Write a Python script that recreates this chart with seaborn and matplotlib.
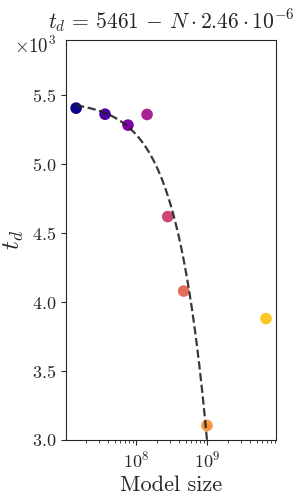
import numpy as np
import pandas as pd
import seaborn as sns
import matplotlib
matplotlib.use("Agg")
import matplotlib.pyplot as plt

# model sizes (parameters) and measured t_d
model_sizes = [1.43e7, 3.66e7, 7.7e7, 1.43e8, 2.8e8, 4.7e8, 1.0e9, 6.8e9]
t_d = [5406, 5362, 5283, 5360, 4620, 4080, 3105, 3880]

# linear fit: t_d = 5461 - N * 2.46e-6
fit_intercept = 5461
fit_slope = 2.46e-6
fit_max_size = 1.0e9

sns.set_style("ticks")
plt.rcParams["font.family"] = "serif"
plt.rcParams["font.serif"] = ["cmr10"]
plt.rcParams["mathtext.fontset"] = "cm"
plt.rcParams["axes.formatter.use_mathtext"] = True
plt.rcParams["axes.unicode_minus"] = False
plt.rcParams["axes.titley"] = 1.0  # keep the title from jumping over the offset text

df = pd.DataFrame({"size": model_sizes, "t_d": t_d, "idx": range(len(model_sizes))})
colors = [plt.cm.plasma(i / len(model_sizes)) for i in range(len(model_sizes))]

fit_x = np.logspace(np.log10(min(model_sizes)), np.log10(fit_max_size), 200)
fit_y = fit_intercept - fit_x * fit_slope

fig, ax = plt.subplots(figsize=(3, 5), dpi=100)
sns.scatterplot(data=df, x="size", y="t_d", hue="idx", palette=colors,
                s=70, linewidth=0, legend=False, ax=ax, zorder=2)
ax.plot(fit_x, fit_y, "--", color="#222222", alpha=0.9, lw=1.6, zorder=3)

ax.set_xscale("log")
ax.set_xlim(1.03e7, 9.4e9)
ax.set_ylim(3000, 5900)
ax.set_yticks([3000, 3500, 4000, 4500, 5000, 5500])
ax.ticklabel_format(axis="y", style="sci", scilimits=(3, 3))
offset = ax.yaxis.get_offset_text()
offset.set_fontsize(13.5)
offset.set_x(-0.045)
offset.set_horizontalalignment("right")
offset.set_verticalalignment("top")
ax.tick_params(labelsize=13)

ax.set_xlabel("Model size", fontsize=16)
ax.set_ylabel("$t_d$", fontsize=18)
ax.set_title(r"$t_d\,=\,5461\,-\,N \cdot 2.46 \cdot 10^{-6}$", fontsize=15.5, pad=8)

fig.subplots_adjust(left=0.22, right=0.92, top=0.92, bottom=0.12)
fig.savefig("out.png", dpi=100)
